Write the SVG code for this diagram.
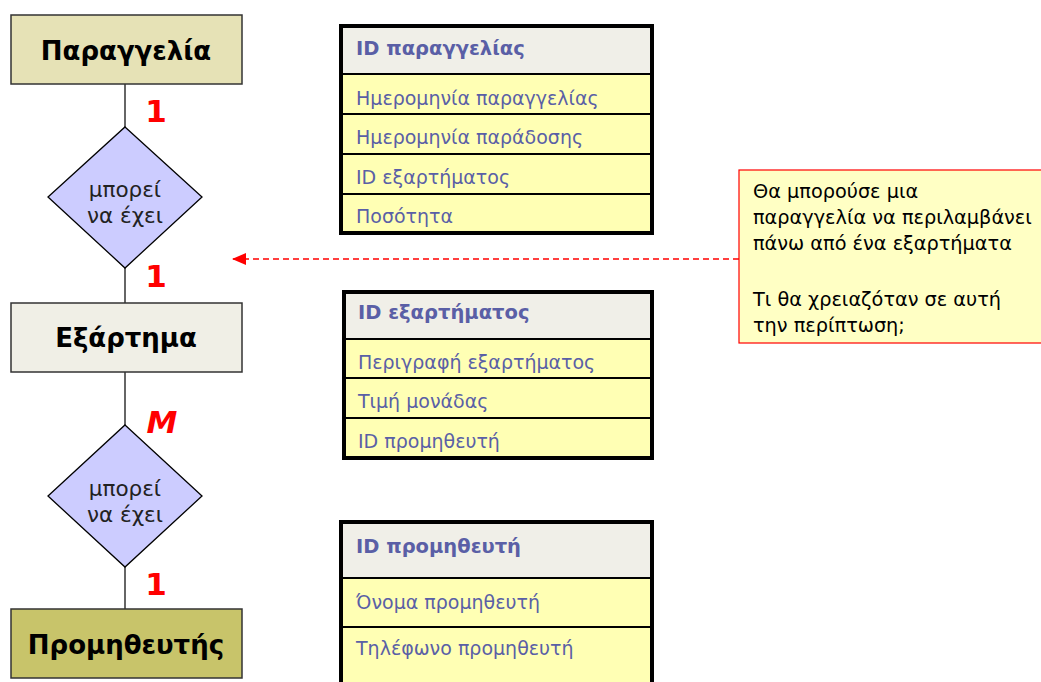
<svg xmlns="http://www.w3.org/2000/svg" width="1041" height="682" viewBox="0 0 1041 682">
<defs>
<style>
.ent{stroke:#333;stroke-width:1.5}
.entt{font-family:"DejaVu Sans",Verdana,sans-serif;font-weight:bold;font-size:26px;fill:#000;text-anchor:middle}
.dia{fill:#ccccff;stroke:#000;stroke-width:1.3}
.diat{font-family:"DejaVu Sans",Verdana,sans-serif;font-size:21.5px;fill:#222;text-anchor:middle}
.card{font-family:"DejaVu Sans",Verdana,sans-serif;font-weight:bold;font-size:31px;fill:#ff0000}
.link{stroke:#333;stroke-width:1.5;fill:none}
.th{fill:#f0efe8}
.tr{fill:#ffffb4}
.tb{fill:none;stroke:#000;stroke-width:4}
.tl{stroke:#000;stroke-width:2}
.ht{font-family:"DejaVu Sans",Verdana,sans-serif;font-weight:bold;font-size:19.5px;fill:#5a5fa6}
.rt{font-family:"DejaVu Sans",Verdana,sans-serif;font-size:19px;fill:#5a5fa6}
.note{fill:#ffffc4;stroke:#ff0000;stroke-width:1.2}
.nt{font-family:"DejaVu Sans",Verdana,sans-serif;font-size:19.3px;fill:#000}
</style>
<marker id="arr" viewBox="0 0 14 12" refX="14" refY="6" markerWidth="14" markerHeight="12" markerUnits="userSpaceOnUse" orient="auto">
<path d="M0,0 L14,6 L0,12 Z" fill="#ff0000"/>
</marker>
</defs>

<g id="connectors">
<line class="link" x1="125" y1="84" x2="125" y2="127"/>
<line class="link" x1="125" y1="268" x2="125" y2="303"/>
<line class="link" x1="125" y1="372" x2="125" y2="425"/>
<line class="link" x1="125" y1="567" x2="125" y2="609"/>
<line x1="739" y1="259" x2="232" y2="259" stroke="#ff0000" stroke-width="1.3" stroke-dasharray="6,4" marker-end="url(#arr)"/>
<text class="card" x="156" y="122" text-anchor="middle">1</text>
<text class="card" x="156" y="287" text-anchor="middle">1</text>
<text class="card" x="162" y="433" text-anchor="middle" font-style="italic">M</text>
<text class="card" x="156" y="595" text-anchor="middle">1</text>
</g>

<g id="order">
<rect class="ent" x="11" y="15" width="231" height="69" fill="#e6e2b6"/>
<text class="entt" x="126" y="60">Παραγγελία</text>
</g>
<g id="rel1">
<polygon class="dia" points="125,127 202,197 125,268 48,197"/>
<text class="diat" x="125" y="197">μπορεί</text>
<text class="diat" x="125" y="223">να έχει</text>
</g>
<g id="part">
<rect class="ent" x="11" y="303" width="231" height="69" fill="#f0efe6"/>
<text class="entt" x="126" y="347">Εξάρτημα</text>
</g>
<g id="rel2">
<polygon class="dia" points="125,425 202,496 125,567 48,496"/>
<text class="diat" x="125" y="496">μπορεί</text>
<text class="diat" x="125" y="522">να έχει</text>
</g>
<g id="supplier">
<rect class="ent" x="11" y="609" width="231" height="69" fill="#c8c46a"/>
<text class="entt" x="126" y="654">Προμηθευτής</text>
</g>

<g id="table-order">
<rect class="th" x="341" y="26" width="311" height="48"/>
<rect class="tr" x="341" y="74" width="311" height="159"/>
<line class="tl" x1="341" y1="74" x2="652" y2="74"/>
<line class="tl" x1="341" y1="114" x2="652" y2="114"/>
<line class="tl" x1="341" y1="154" x2="652" y2="154"/>
<line class="tl" x1="341" y1="194" x2="652" y2="194"/>
<rect class="tb" x="341" y="26" width="311" height="207"/>
<text class="ht" x="356" y="55">ID παραγγελίας</text>
<text class="rt" x="356" y="105">Ημερομηνία παραγγελίας</text>
<text class="rt" x="356" y="144">Ημερομηνία παράδοσης</text>
<text class="rt" x="356" y="184">ID εξαρτήματος</text>
<text class="rt" x="356" y="223">Ποσότητα</text>
</g>

<g id="table-part">
<rect class="th" x="344" y="292" width="308" height="47"/>
<rect class="tr" x="344" y="339" width="308" height="119"/>
<line class="tl" x1="344" y1="339" x2="652" y2="339"/>
<line class="tl" x1="344" y1="378" x2="652" y2="378"/>
<line class="tl" x1="344" y1="418" x2="652" y2="418"/>
<rect class="tb" x="344" y="292" width="308" height="166"/>
<text class="ht" x="358" y="319">ID εξαρτήματος</text>
<text class="rt" x="358" y="369">Περιγραφή εξαρτήματος</text>
<text class="rt" x="358" y="408">Τιμή μονάδας</text>
<text class="rt" x="358" y="448">ID προμηθευτή</text>
</g>

<g id="table-supplier">
<rect class="th" x="341" y="522" width="311" height="56"/>
<rect class="tr" x="341" y="578" width="311" height="110"/>
<line class="tl" x1="341" y1="578" x2="652" y2="578"/>
<line class="tl" x1="341" y1="627" x2="652" y2="627"/>
<path class="tb" d="M341,690 L341,522 L652,522 L652,690"/>
<text class="ht" x="356" y="553">ID προμηθευτή</text>
<text class="rt" x="356" y="609">Όνομα προμηθευτή</text>
<text class="rt" x="356" y="655">Τηλέφωνο προμηθευτή</text>
</g>

<g id="note">
<rect class="note" x="739" y="170" width="310" height="173"/>
<text class="nt" x="753" y="198">Θα μπορούσε μια</text>
<text class="nt" x="753" y="224">παραγγελία να περιλαμβάνει</text>
<text class="nt" x="753" y="250">πάνω από ένα εξαρτήματα</text>
<text class="nt" x="753" y="306">Τι θα χρειαζόταν σε αυτή</text>
<text class="nt" x="753" y="332">την περίπτωση;</text>
</g>
</svg>
